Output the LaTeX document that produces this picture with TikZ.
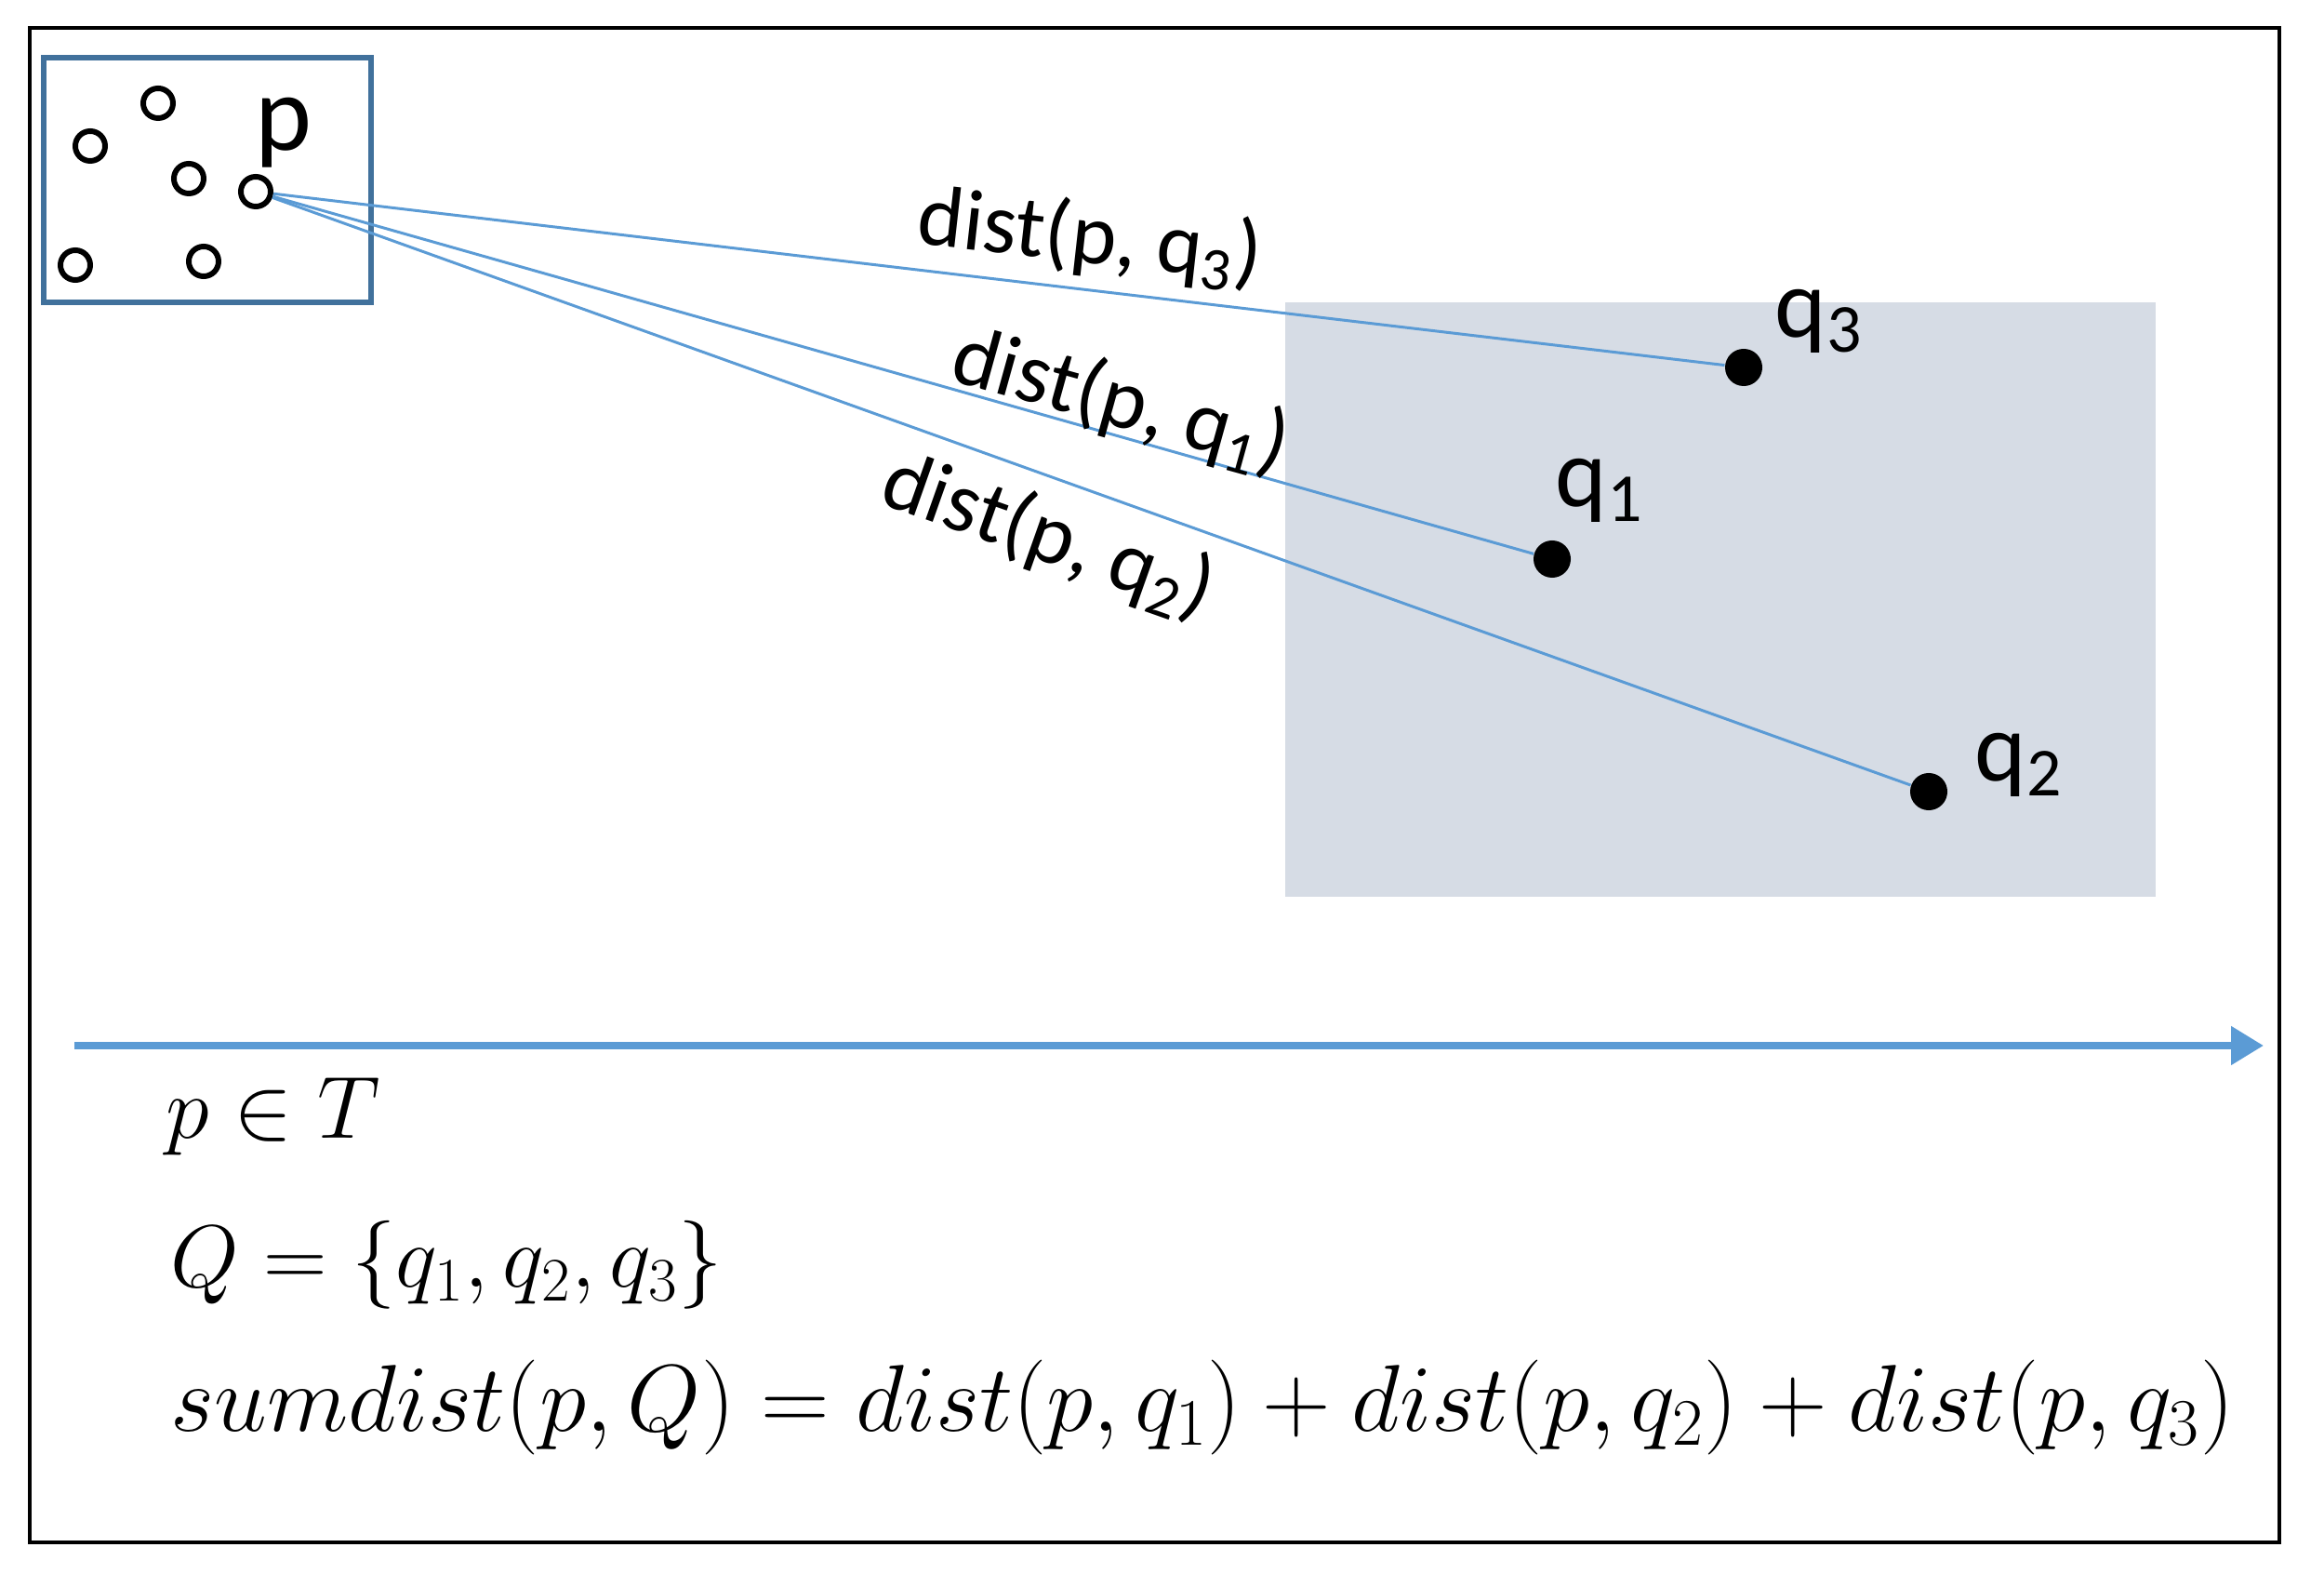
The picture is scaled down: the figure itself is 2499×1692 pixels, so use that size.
\documentclass[tikz,border=0pt]{standalone}
\usepackage{fix-cm}
\usepackage[no-math]{fontspec}
\setmainfont{Carlito}
\usetikzlibrary{arrows.meta}
\definecolor{boxblue}{HTML}{41719C}
\definecolor{linkblue}{HTML}{5B9BD5}
\definecolor{areagrey}{HTML}{D6DCE5}

\begin{document}
\begin{tikzpicture}[x=0.01cm, y=-0.01cm,
                    data node/.style={circle,draw,line width=1.7pt,minimum size=0.32cm,inner sep=0pt},
                    query node/.style={circle,fill,minimum size=0.4cm,inner sep=0pt},
                    dist line/.style={draw=linkblue,line width=0.85pt},
                    dist label/.style={font=\fontsize{26.5}{31}\selectfont,inner sep=0pt},
                    name label/.style={font=\fontsize{30}{36}\selectfont,inner sep=0pt,anchor=base west},
                    math line/.style={font=\fontsize{27}{32}\selectfont,inner sep=0pt,anchor=base west}]

  \useasboundingbox (0,0) rectangle (2499,1692);
  \draw[line width=1.4pt] (32,30) rectangle (2451,1658);
  \fill[areagrey] (1382,325) rectangle (2318,964);
  \draw[boxblue,line width=1.7pt] (47,62) rectangle (399,325);

  % points of T
  \node[data node] (t1) at (97,157) {};
  \node[data node] (t2) at (170,111) {};
  \node[data node] (t3) at (203,192) {};
  \node[data node] (t4) at (81,285) {};
  \node[data node] (t5) at (219,281) {};
  \node[data node] (p) at (275,206) {};
  \node[name label,font=\fontsize{33}{40}\selectfont] (plabel) at (274,162) {p};

  % query points
  \node[query node] (q3) at (1875,395) {};
  \node[query node] (q1) at (1669,601) {};
  \node[query node] (q2) at (2074,851) {};
  \node[name label] (q3label) at (1908,363) {q\textsubscript{3}};
  \node[name label] (q1label) at (1672,545) {q\textsubscript{1}};
  \node[name label] (q2label) at (2123,840) {q\textsubscript{2}};

  \draw[dist line] (p) -- (q3);
  \draw[dist line] (p) -- (q1);
  \draw[dist line] (p) -- (q2);

  \node[dist label,rotate=-6.4] (d3) at (1172,256) {dist(p, q\textsubscript{3})};
  \node[dist label,rotate=-15.5] (d1) at (1205,432) {dist(p, q\textsubscript{1})};
  \node[dist label,rotate=-19.5] (d2) at (1127,577) {dist(p, q\textsubscript{2})};

  \coordinate (axisstart) at (80,1124);
  \coordinate (axisend) at (2434,1124);
  \draw[linkblue,line width=2.3pt,-{Triangle[length=0.35cm,width=0.4cm]}] (axisstart) -- (axisend);

  \node[math line] (member) at (178,1224) {$p \in T$};
  \node[math line] (qset) at (183,1384) {$Q = \{q_1, q_2, q_3\}$};
  \node[math line,font=\fontsize{29}{34}\selectfont] (sum) at (183,1538) {$sumdist(p, Q) = dist(p, q_1) + dist(p, q_2) + dist(p, q_3)$};

\end{tikzpicture}
\end{document}
